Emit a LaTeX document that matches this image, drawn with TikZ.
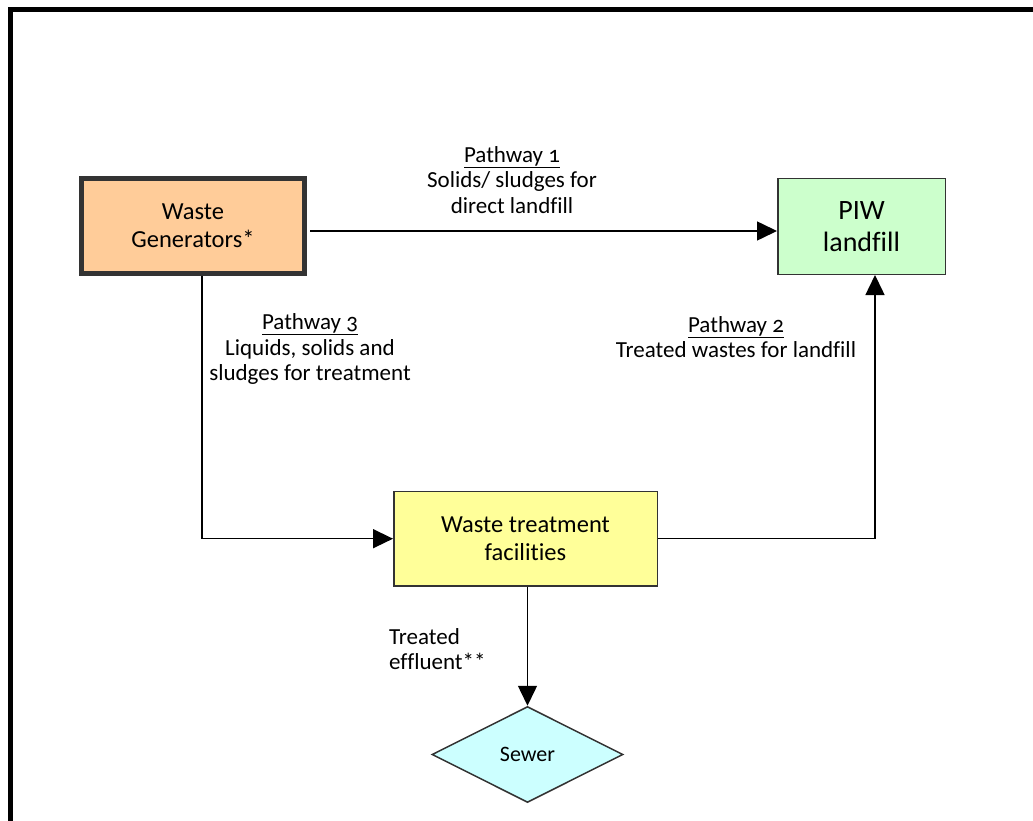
\documentclass[tikz,border=0pt]{standalone}
\usepackage{fontspec}
\setmainfont{Carlito}[Numbers=OldStyle,Ligatures=NoCommon]
\usetikzlibrary{positioning,shapes.geometric,arrows.meta}
\definecolor{genfill}{HTML}{FFCC99}
\definecolor{piwfill}{HTML}{CCFFCC}
\definecolor{wtffill}{HTML}{FFFF99}
\definecolor{sewfill}{HTML}{CCFFFF}
\definecolor{boxline}{HTML}{333333}
\newcommand{\pathfont}{\fontsize{23}{25.5}\selectfont}
\newcommand{\boxfont}{\fontsize{24.5}{28}\selectfont}

\begin{document}
\begin{tikzpicture}[x=1pt,y=-1pt,
    box/.style={draw=boxline,line width=1.5pt,align=center,inner sep=0pt},
    flow/.style={line width=1.5pt,-{Triangle[length=20pt,width=19pt]}},
    lbl/.style={align=center,inner sep=0pt,font=\pathfont}]
        \useasboundingbox (0,0) rectangle (1033,821);
        \draw[line width=5pt] (10,821) -- (10,10) -- (1033,10);
        % boxes
        \node(gen)   [box,line width=5pt,fill=genfill,minimum width=223pt,minimum height=95pt,font=\boxfont] at (193,226) {Waste\\Generators*};
        \node(piw)   [box,fill=piwfill,minimum width=167.5pt,minimum height=95.5pt,font=\fontsize{28}{32}\selectfont] at (861.5,226.5) {PIW\\landfill};
        \node(wtf)   [box,fill=wtffill,minimum width=263.5pt,minimum height=94.5pt,font=\boxfont] at (525.5,538.7) {Waste treatment\\facilities};
        \node(sewer) [box,diamond,aspect=2,fill=sewfill,minimum width=191pt,minimum height=96pt,font=\fontsize{22}{24}\selectfont] at (527.5,754.5) {Sewer};
        % labels
        \node(p1)  [lbl] at (512,180) {\underline{Pathway 1}\\Solids/ sludges for\\direct landfill};
        \node(p3)  [lbl] at (310,349) {\underline{Pathway 3}\\Liquids, solids and\\sludges for treatment};
        \node(p2)  [lbl] at (736,337) {\underline{Pathway 2}\\Treated wastes for landfill};
        \node(eff) [lbl,align=left,anchor=west] at (389,649) {Treated\\effluent**};
        % connectors
        \draw[flow,shorten <=3pt]([yshift=-5pt]gen.east) -- ([yshift=-5pt]gen.east -| piw.west);
        \draw[flow]([xshift=9pt]gen.south) |- (wtf.west);
        \draw[flow](wtf.east) -| ([xshift=13.5pt]piw.south);
        \draw[flow](wtf.south -| sewer.north) -- (sewer.north);
    \end{tikzpicture}
\end{document}
